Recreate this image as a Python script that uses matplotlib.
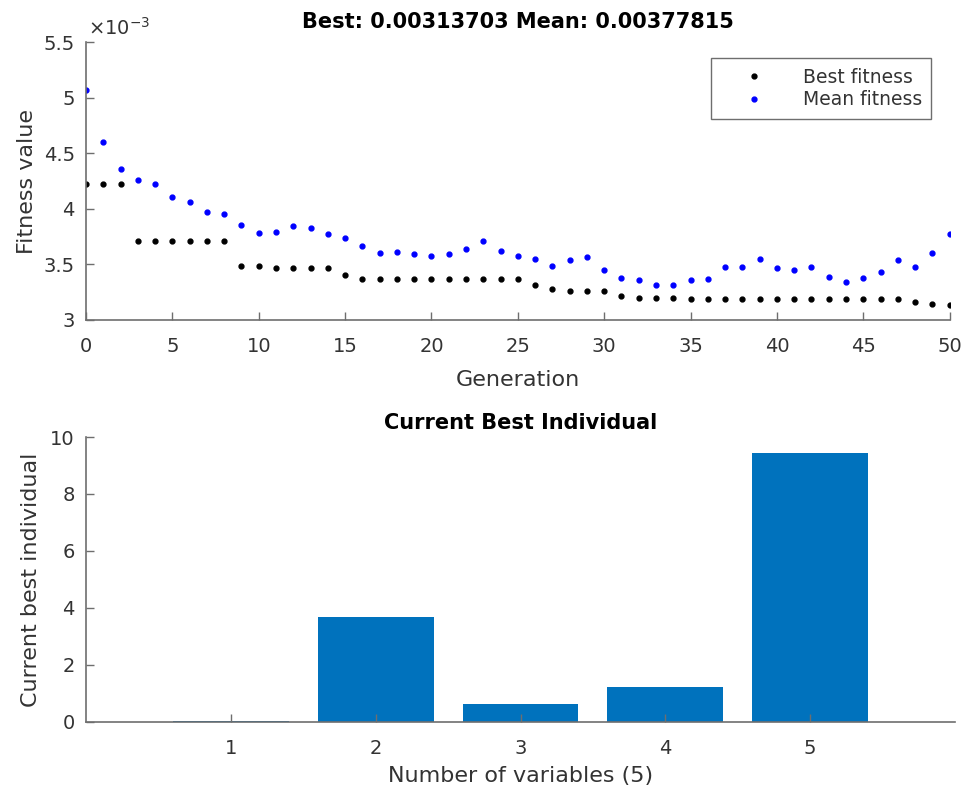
import numpy as np
import matplotlib
matplotlib.use("Agg")
import matplotlib.pyplot as plt
from matplotlib.ticker import FuncFormatter

# generations 0..50
generations = list(range(51))

best_fitness = [4.220, 4.220, 4.220, 3.711, 3.711, 3.711, 3.711, 3.711, 3.711, 3.482,
                3.482, 3.470, 3.470, 3.470, 3.470, 3.404, 3.373, 3.373, 3.373, 3.373,
                3.373, 3.367, 3.367, 3.367, 3.367, 3.367, 3.319, 3.277, 3.262, 3.262,
                3.262, 3.214, 3.200, 3.200, 3.200, 3.190, 3.190, 3.190, 3.190, 3.190,
                3.190, 3.190, 3.190, 3.190, 3.190, 3.190, 3.190, 3.188, 3.165, 3.145,
                3.13703]

mean_fitness = [5.072, 4.599, 4.355, 4.262, 4.220, 4.108, 4.063, 3.973, 3.958, 3.852,
                3.780, 3.789, 3.846, 3.831, 3.770, 3.735, 3.669, 3.605, 3.614, 3.596,
                3.572, 3.590, 3.642, 3.714, 3.617, 3.572, 3.551, 3.482, 3.542, 3.566,
                3.452, 3.380, 3.360, 3.319, 3.313, 3.364, 3.370, 3.476, 3.479, 3.545,
                3.467, 3.452, 3.473, 3.386, 3.346, 3.380, 3.434, 3.536, 3.476, 3.605,
                3.77815]

best_fitness = [v * 1e-3 for v in best_fitness]
mean_fitness = [v * 1e-3 for v in mean_fitness]

variables = [1, 2, 3, 4, 5]
best_individual = [0.05, 3.68, 0.62, 1.23, 9.43]

spine_col = '#6e6e6e'
text_col = '#333333'

fig = plt.figure(figsize=(9.69, 7.96), dpi=100)

# --- top: fitness per generation
ax1 = fig.add_axes([0.0888, 0.598, 0.8912, 0.349])
ax1.plot(generations, best_fitness, '.', color='black', markersize=7, label='Best fitness')
ax1.plot(generations, mean_fitness, '.', color='blue', markersize=7, label='Mean fitness')
ax1.set_xlim(0, 50)
ax1.set_ylim(3e-3, 5.5e-3)
ax1.set_xticks(range(0, 51, 5))
ax1.set_yticks(np.arange(3e-3, 5.51e-3, 0.5e-3))
ax1.yaxis.set_major_formatter(FuncFormatter(lambda v, p: '%g' % round(v * 1e3, 3)))
ax1.text(0.002, 1.012, r'$\times10^{-3}$', transform=ax1.transAxes,
         fontsize=14, color=text_col, ha='left', va='bottom')
ax1.set_title('Best: 0.00313703 Mean: 0.00377815', fontsize=15, fontweight='bold', pad=10)
ax1.set_xlabel('Generation', fontsize=16, color=text_col, labelpad=10)
ax1.set_ylabel('Fitness value', fontsize=16, color=text_col, labelpad=5)
leg = ax1.legend(loc='upper right', bbox_to_anchor=(0.979, 0.942), fontsize=13.5,
                 frameon=True, fancybox=False, edgecolor=spine_col, framealpha=1,
                 handlelength=3.6, handletextpad=0.8, borderpad=0.5,
                 labelspacing=0.2, borderaxespad=0)
leg.get_frame().set_linewidth(1.0)
for t in leg.get_texts():
    t.set_color(text_col)

# --- bottom: current best individual
ax2 = fig.add_axes([0.0888, 0.093, 0.8968, 0.358])
ax2.bar(variables, best_individual, width=0.8, color='#0072BD')
ax2.set_xlim(0, 6)
ax2.set_ylim(0, 10)
ax2.set_xticks(variables)
ax2.set_yticks([0, 2, 4, 6, 8, 10])
ax2.set_title('Current Best Individual', fontsize=15, fontweight='bold', pad=6)
ax2.set_xlabel('Number of variables (5)', fontsize=16, color=text_col, labelpad=6)
ax2.set_ylabel('Current best individual', fontsize=16, color=text_col, labelpad=7)

for ax in (ax1, ax2):
    for s in ('top', 'right'):
        ax.spines[s].set_visible(False)
    for s in ('left', 'bottom'):
        ax.spines[s].set_color(spine_col)
        ax.spines[s].set_linewidth(1.2)
    ax.tick_params(direction='in', length=6, width=1, color=spine_col,
                   labelsize=14, labelcolor=text_col)
    ax.tick_params(axis='x', pad=12)
    ax.tick_params(axis='y', pad=8)
    ax.set_axisbelow(False)

fig.savefig('out.png', dpi=100)
